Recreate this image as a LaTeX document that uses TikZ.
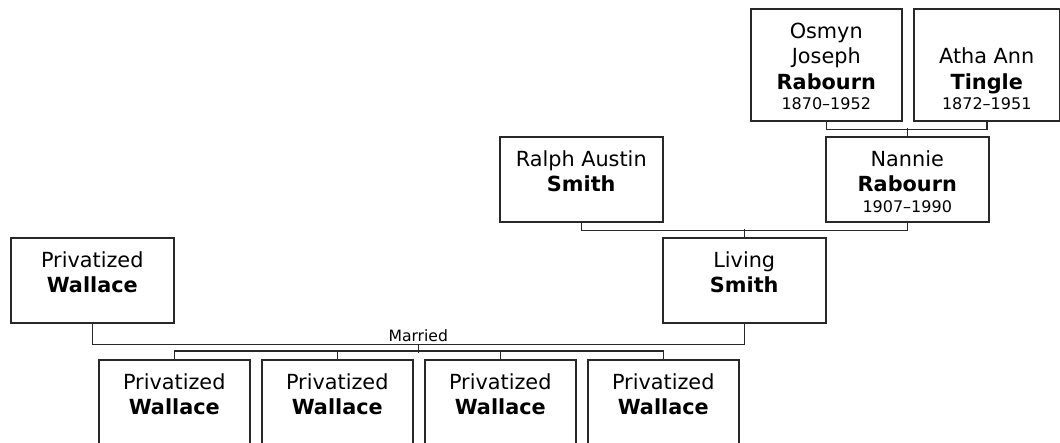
\documentclass[tikz,border=0pt]{standalone}
\usepackage{fontspec}
\setmainfont{DejaVu Sans}
\usepackage{tikz}
\usetikzlibrary{calc}

\definecolor{lineaGris}{RGB}{40,40,40}

\newcommand{\who}[2][85]{\parbox[c][#1pt][t]{146pt}{\centering\rule{0pt}{29.5pt}\ignorespaces#2}}
\newcommand{\yrs}[1]{\\[-5pt]{\fontsize{16pt}{20pt}\selectfont#1}}

\begin{document}
\begin{tikzpicture}[
    x=1pt, y=-1pt,
    font=\fontsize{20.8pt}{25.5pt}\selectfont,
    person/.style={
        rectangle,
        draw=lineaGris,
        line width=1.5pt,
        inner sep=0pt,
        anchor=north west,
        minimum width=163pt,
        minimum height=85pt
    },
    elder/.style={
        person,
        minimum width=151pt,
        minimum height=112pt
    },
    child/.style={
        person,
        minimum width=151pt
    },
    link/.style={
        line width=1.5pt,
        lineaGris
    }
]
\useasboundingbox (0,0) rectangle (1060,442);
\clip (0,0) rectangle (1060,442);

% ABUELOS
\node[elder] (osmyn) at (750,8)
{\who[112]{Osmyn\\Joseph\\\textbf{Rabourn}\yrs{1870--1952}}};

\node[elder, minimum width=146pt] (atha) at (913,8)
{\who[112]{\\Atha Ann\\\textbf{Tingle}\yrs{1872--1951}}};

% PADRES
\node[person] (ralph) at (499,136)
{\who{Ralph Austin\\\textbf{Smith}}};

\node[person] (nannie) at (825,136)
{\who{Nannie\\\textbf{Rabourn}\yrs{1907--1990}}};

% PAREJA
\node[person] (wallace) at (10,237)
{\who{Privatized\\\textbf{Wallace}}};

\node[person] (living) at (662,237)
{\who{Living\\\textbf{Smith}}};

% HIJOS
\node[child] (kidA) at (98,359)  {\who{Privatized\\\textbf{Wallace}}};
\node[child] (kidB) at (261,359) {\who{Privatized\\\textbf{Wallace}}};
\node[child] (kidC) at (424,359) {\who{Privatized\\\textbf{Wallace}}};
\node[child] (kidD) at (587,359) {\who{Privatized\\\textbf{Wallace}}};

% LINEAS
\draw[link] (osmyn.south) -- ++(0,8) -| (atha.south);
\draw[link] (nannie.north) -- ++(0,-8);

\draw[link] (ralph.south) -- ++(0,8) -| (nannie.south);
\draw[link] (living.north) -- ++(0,-8);

\draw[link] (wallace.south) -- ++(0,21) -| (living.south);
\coordinate (wed) at ($(wallace.south)!0.5!(living.south)+(0,21)$);
\node[inner sep=0pt, above=3pt, font=\fontsize{15.6pt}{18pt}\selectfont] (married) at (wed) {Married};

\draw[link] (wed) -- ++(0,8);
\draw[link] (kidA.north) -- ++(0,-8) -| (kidD.north);
\draw[link] (kidB.north) -- ++(0,-8);
\draw[link] (kidC.north) -- ++(0,-8);

\end{tikzpicture}
\end{document}
